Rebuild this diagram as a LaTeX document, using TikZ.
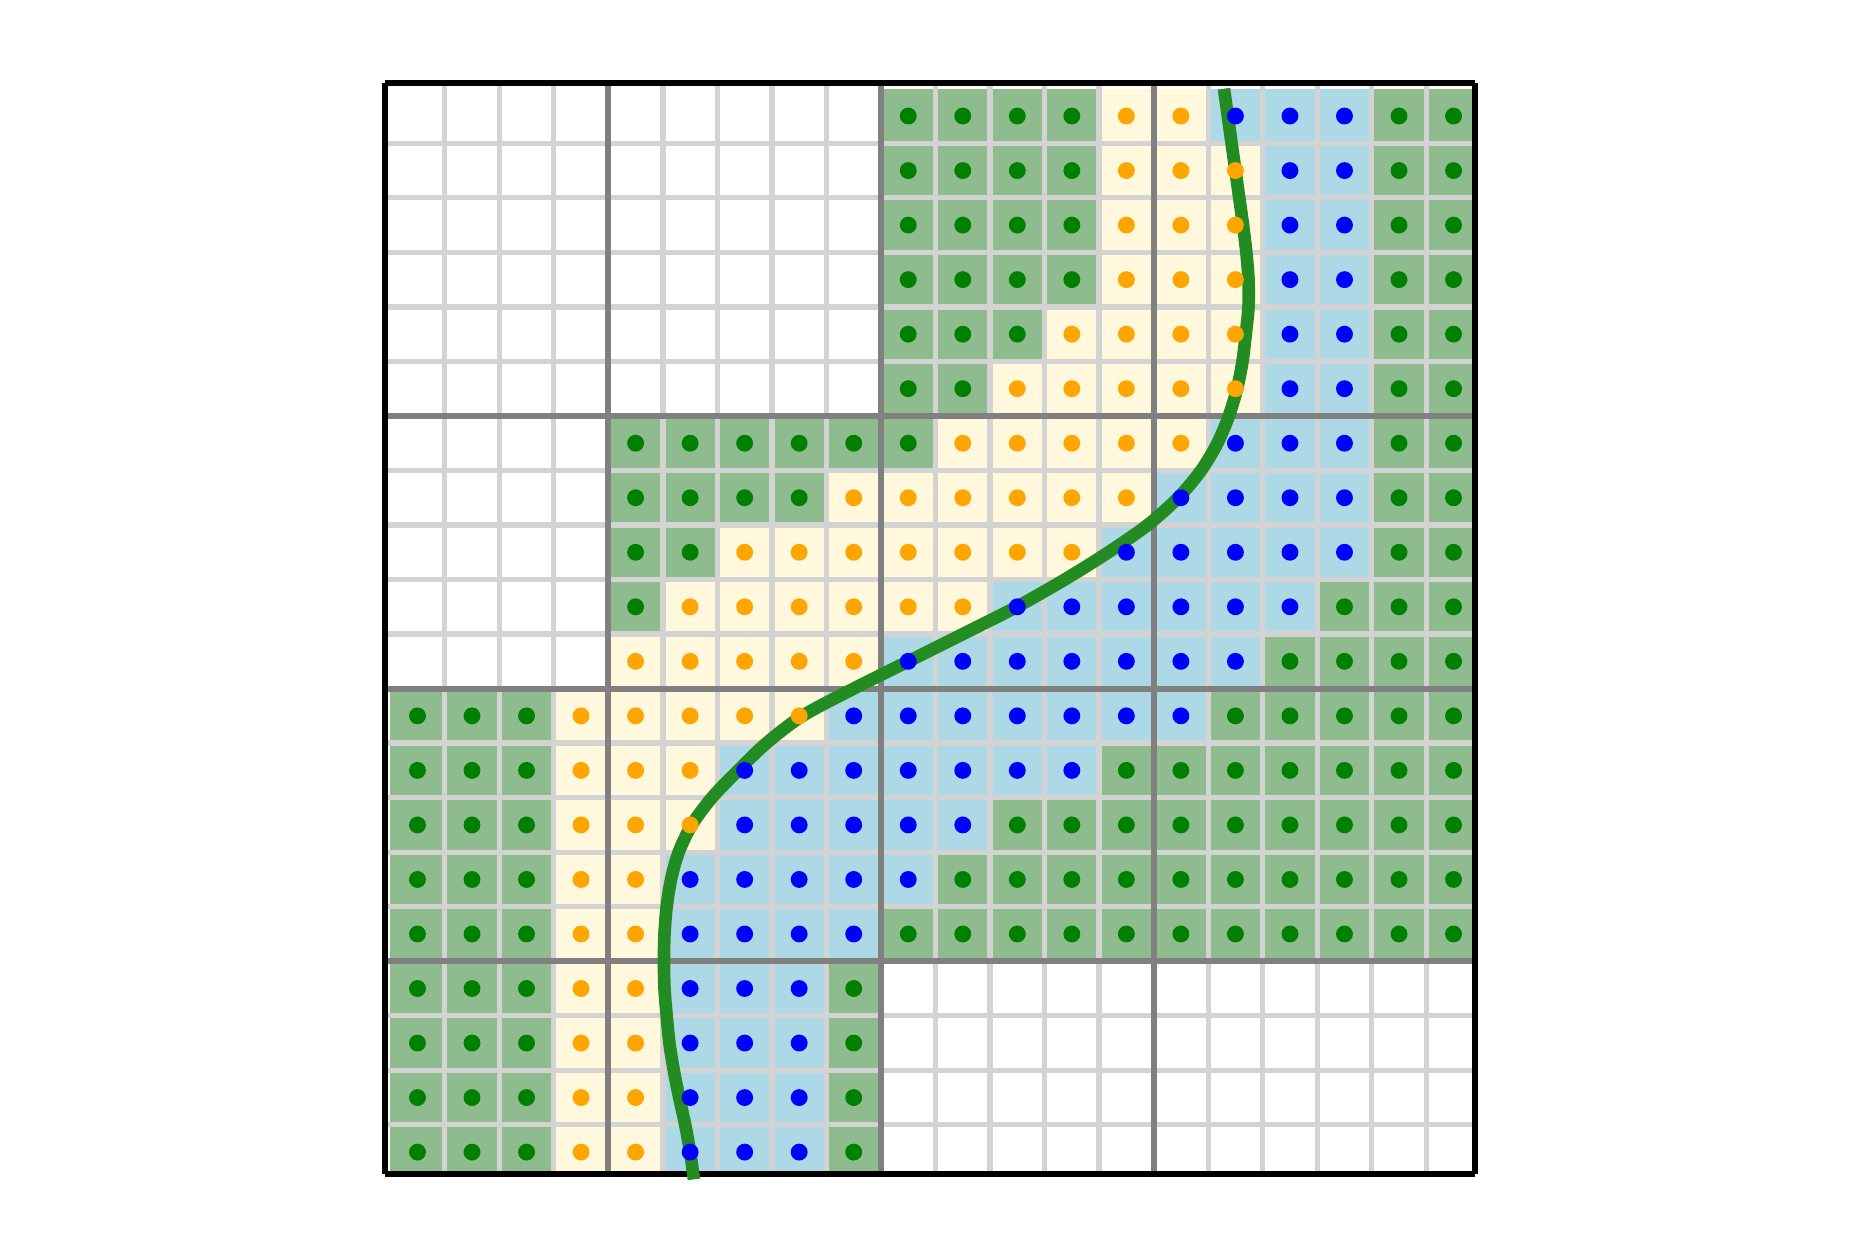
\documentclass[tikz,border=0pt]{standalone}
\usepackage{tikz}

\definecolor{cellgreen}{HTML}{8FBC8F}
\definecolor{cellyellow}{HTML}{FFF8DC}
\definecolor{cellblue}{HTML}{ADD8E6}
\definecolor{dotgreen}{HTML}{008000}
\definecolor{dotyellow}{HTML}{FFA500}
\definecolor{dotblue}{HTML}{0000FF}
\definecolor{finegray}{HTML}{D3D3D3}
\definecolor{blockgray}{HTML}{808080}
\definecolor{frontgreen}{HTML}{228B22}

% row / first green / yellow / blue / second green / white again
\newcommand{\rowtable}{0/9/13/15/18/20, 1/9/13/16/18/20, 2/9/13/16/18/20,
  3/9/13/16/18/20, 4/9/12/16/18/20, 5/9/11/16/18/20, 6/4/10/15/18/20,
  7/4/8/14/18/20, 8/4/6/13/18/20, 9/4/5/11/17/20, 10/4/4/9/16/20,
  11/0/3/8/15/20, 12/0/3/6/13/20, 13/0/3/6/11/20, 14/0/3/5/10/20,
  15/0/3/5/9/20, 16/0/3/5/8/9, 17/0/3/5/8/9, 18/0/3/5/8/9, 19/0/3/5/8/9}

\newcommand{\pickkind}{%
  \ifnum\i<\a\relax\def\kind{}%
  \else\ifnum\i<\b\relax\def\kind{green}%
  \else\ifnum\i<\c\relax\def\kind{yellow}%
  \else\ifnum\i<\d\relax\def\kind{blue}%
  \else\ifnum\i<\e\relax\def\kind{green}%
  \else\def\kind{}\fi\fi\fi\fi\fi}

\begin{document}
\begin{tikzpicture}[x=0.5cm,y=-0.5cm,
  fine/.style={finegray,line width=1.38pt},
  block/.style={blockgray,line width=1.57pt},
  frame/.style={black,line width=1.57pt,line cap=butt},
  front/.style={frontgreen,line width=3.3pt,line cap=butt}]
\useasboundingbox (-7.156,-1.628) rectangle (26.936,21.460);

\begin{scope}
\clip (-0.1,-0.1) rectangle (19.9,19.9);
\foreach \j/\a/\b/\c/\d/\e in \rowtable {
  \foreach \i in {0,...,19} {
    \pickkind
    \ifx\kind\empty\else
      \fill[cell\kind] (\i,\j) rectangle ++(1,1);
    \fi
  }
}
\foreach \k in {1,...,19} {
  \draw[fine] (\k,-0.1) -- (\k,19.9);
  \draw[fine] (-0.1,\k) -- (19.9,\k);
}
\foreach \k in {4,9,14} \draw[block] (\k,-0.1) -- (\k,19.9);
\foreach \k in {6,11,16} \draw[block] (-0.1,\k) -- (19.9,\k);
\end{scope}

\draw[frame] (-0.1,-0.1) -- (19.9,-0.1);
\draw[frame] (19.9,-0.1) -- (19.9,19.9);
\draw[frame] (19.9,19.9) -- (-0.1,19.9);
\draw[frame] (-0.1,19.9) -- (-0.1,-0.1);

\draw[front] plot[smooth] coordinates {(15.29,0) (15.36,0.5) (15.43,1)
  (15.50,1.5) (15.57,2) (15.64,2.5) (15.70,3) (15.74,3.5) (15.74,4)
  (15.69,4.5) (15.63,5) (15.53,5.5) (15.38,6) (15.17,6.5) (14.87,7)
  (14.45,7.5) (13.89,8) (13.17,8.5) (12.37,9) (11.49,9.5) (10.5,10)
  (9.5,10.5) (8.5,11) (7.56,11.5) (6.9,12) (6.38,12.5) (5.9,13) (5.53,13.5)
  (5.29,14) (5.15,14.5) (5.07,15) (5.03,15.5) (5.02,16) (5.03,16.5)
  (5.07,17) (5.12,17.5) (5.2,18) (5.3,18.5) (5.41,19) (5.5,19.5) (5.57,20)};

\foreach \j/\a/\b/\c/\d/\e in \rowtable {
  \foreach \i in {0,...,19} {
    \pickkind
    \ifx\kind\empty\else
      \fill[dot\kind] (\i+.5,\j+.5) circle[radius=.155];
    \fi
  }
}
\end{tikzpicture}
\end{document}
